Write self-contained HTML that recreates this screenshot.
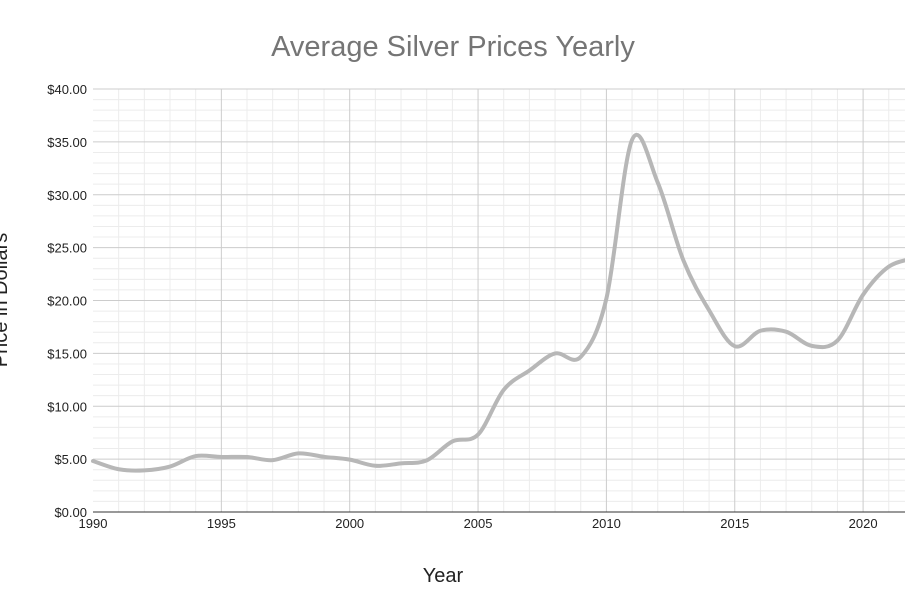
<!DOCTYPE html><html><head><style>body{margin:0;background:#fff;overflow:hidden}svg{display:block}</style></head><body>
<svg id="s" width="905" height="613" xmlns="http://www.w3.org/2000/svg" font-family="Liberation Sans, sans-serif">
<rect width="905" height="613" fill="#fff"/>
<g id="grid"></g>
<path id="p" fill="none" stroke="#b7b7b7" stroke-width="4" stroke-linejoin="round" stroke-linecap="round"/>
<text x="453" y="56" font-size="29" fill="#757575" text-anchor="middle">Average Silver Prices Yearly</text>
<text x="443" y="582" font-size="20" fill="#222" text-anchor="middle">Year</text>
<text transform="translate(7,300) rotate(-90)" font-size="20" fill="#222" text-anchor="middle">Price in Dollars</text>
</svg>
<script>
var g=document.getElementById('grid'),h='';
var X=function(y){return 93+(y-1990)*25.67},Y=function(v){return 512-v*10.575};
for(var d=1;d<=40;d++){if(d%5)h+='<line x1="93" x2="905" y1="'+Y(d)+'" y2="'+Y(d)+'" stroke="#ececec"/>';}
for(var y=1991;y<=2021;y++){if(y%5)h+='<line y1="89" y2="512" x1="'+X(y)+'" x2="'+X(y)+'" stroke="#ececec"/>';}
for(var d=5;d<=40;d+=5)h+='<line x1="93" x2="905" y1="'+Y(d)+'" y2="'+Y(d)+'" stroke="#cccccc"/>';
for(var y=1995;y<=2020;y+=5)h+='<line y1="89" y2="512" x1="'+X(y)+'" x2="'+X(y)+'" stroke="#cccccc"/>';
h+='<line x1="93" x2="905" y1="512" y2="512" stroke="#333"/>';
for(var d=0;d<=40;d+=5)h+='<text x="87" y="'+(Y(d)+5)+'" font-size="13" text-anchor="end" fill="#222">$'+d+'.00</text>';
for(var y=1990;y<=2020;y+=5)h+='<text x="'+X(y)+'" y="528" font-size="13" text-anchor="middle" fill="#222">'+y+'</text>';
g.innerHTML=h;
var data=[4.82,4.04,3.94,4.30,5.29,5.20,5.20,4.90,5.54,5.22,4.95,4.37,4.60,4.88,6.67,7.32,11.55,13.38,14.99,14.67,20.19,35.2,31.15,23.79,19.08,15.68,17.14,17.05,15.71,16.21,20.55,23.2,24.0];
var pts=data.map(function(v,i){return [X(1990+i),Y(v)]});
var s='M'+pts[0][0]+','+pts[0][1];
for(var i=0;i<pts.length-1;i++){var p0=pts[i-1]||pts[i],p1=pts[i],p2=pts[i+1],p3=pts[i+2]||p2;
s+='C'+(p1[0]+(p2[0]-p0[0])/6)+','+(p1[1]+(p2[1]-p0[1])/6)+' '+(p2[0]-(p3[0]-p1[0])/6)+','+(p2[1]-(p3[1]-p1[1])/6)+' '+p2[0]+','+p2[1];}
document.getElementById('p').setAttribute('d',s);
</script></body></html>
